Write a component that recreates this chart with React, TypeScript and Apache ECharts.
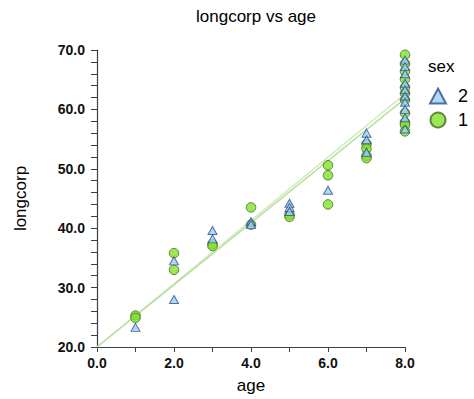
import React, { useEffect, useRef } from "react";
import * as echarts from "echarts";

const TITLE = "longcorp vs age";
const X_NAME = "age";
const Y_NAME = "longcorp";
const LEGEND_TITLE = "sex";

// [age, longcorp] for sex = 2 (triangles)
const sex2Points: [number, number][] = [
  [1, 23.3],
  [2, 34.5], [2, 28.0],
  [3, 39.6], [3, 38.2],
  [4, 41.1], [4, 40.6],
  [5, 44.2], [5, 43.5], [5, 42.8],
  [6, 46.4],
  [7, 56.0], [7, 54.9], [7, 52.8],
  [8, 68.3], [8, 67.2], [8, 66.0], [8, 64.4], [8, 63.3], [8, 62.2], [8, 61.2], [8, 60.0], [8, 58.6], [8, 56.7],
];

// [age, longcorp] for sex = 1 (circles)
const sex1Points: [number, number][] = [
  [1, 25.3], [1, 24.9],
  [2, 35.8], [2, 33.0],
  [3, 37.3], [3, 37.0],
  [4, 43.5], [4, 40.6],
  [5, 42.3], [5, 41.9],
  [6, 50.6], [6, 48.9], [6, 44.0],
  [7, 54.2], [7, 53.4], [7, 52.2], [7, 51.8],
  [8, 69.2], [8, 67.7], [8, 66.4], [8, 65.1], [8, 63.7], [8, 62.7], [8, 61.6], [8, 59.4], [8, 57.8], [8, 57.4], [8, 56.3],
];

// fitted lines (endpoints at age 0 and 8)
const fitLine2: [number, number][] = [[0, 20.0], [8, 62.6]];
const fitLine1: [number, number][] = [[0, 20.0], [8, 61.8]];

const X_MIN = 0, X_MAX = 8, X_INTERVAL = 2;
const Y_MIN = 20, Y_MAX = 70, Y_INTERVAL = 10;

export default function App() {
  const ref = useRef<HTMLDivElement>(null);
  useEffect(() => {
    if (!ref.current) return;
    const chart = echarts.init(ref.current, null, { renderer: "svg" });
    const font = "Arial, 'Liberation Sans', sans-serif";
    const axisColor = "#3c3c4a";
    chart.setOption({
      animation: false,
      backgroundColor: "#ffffff",
      title: {
        text: TITLE,
        left: 251,
        textAlign: "center",
        top: 3,
        textStyle: { fontFamily: font, fontSize: 17, fontWeight: "normal", color: "#000" },
      },
      grid: { left: 97, right: 69, top: 50, bottom: 50 },
      xAxis: {
        type: "value",
        min: X_MIN,
        max: X_MAX,
        interval: X_INTERVAL,
        name: X_NAME,
        nameLocation: "middle",
        nameGap: 30,
        nameTextStyle: { fontFamily: font, fontSize: 17, color: "#000" },
        axisLine: { show: true, onZero: false, lineStyle: { color: axisColor, width: 1.2 } },
        axisTick: { show: true, length: 5, lineStyle: { color: axisColor } },
        minorTick: { show: true, splitNumber: 2, length: 5, lineStyle: { color: axisColor } },
        axisLabel: {
          margin: 9,
          formatter: (v: number) => v.toFixed(1),
          fontFamily: font, fontSize: 14, fontWeight: "bold", color: "#111",
        },
        splitLine: { show: false },
      },
      yAxis: {
        type: "value",
        min: Y_MIN,
        max: Y_MAX,
        interval: Y_INTERVAL,
        name: Y_NAME,
        nameLocation: "middle",
        nameGap: 68,
        nameTextStyle: { fontFamily: font, fontSize: 17, color: "#000" },
        axisLine: { show: true, onZero: false, lineStyle: { color: axisColor, width: 1.2 } },
        axisTick: { show: true, length: 6, lineStyle: { color: axisColor } },
        minorTick: { show: true, splitNumber: 5, length: 6, lineStyle: { color: axisColor } },
        axisLabel: {
          margin: 12,
          formatter: (v: number) => v.toFixed(1),
          fontFamily: font, fontSize: 14, fontWeight: "bold", color: "#111",
        },
        splitLine: { show: false },
      },
      legend: {
        orient: "vertical",
        left: 424,
        top: 82,
        itemWidth: 16,
        itemHeight: 15,
        itemGap: 6,
        data: [
          { name: "2", icon: "triangle" },
          { name: "1", icon: "circle" },
        ],
        textStyle: { fontFamily: font, fontSize: 18, color: "#000", padding: [0, 0, 0, 7] },
      },
      graphic: [
        {
          type: "text",
          left: 428,
          top: 58,
          style: { text: LEGEND_TITLE, font: `17px ${font}`, fill: "#000" },
        },
      ],
      series: [
        {
          name: "fit2",
          type: "line",
          data: fitLine2,
          symbol: "none",
          lineStyle: { color: "#cbe9b6", width: 1.5 },
          z: 1,
          silent: true,
        },
        {
          name: "fit1",
          type: "line",
          data: fitLine1,
          symbol: "none",
          lineStyle: { color: "#b6dfa0", width: 1.5 },
          z: 1,
          silent: true,
        },
        {
          name: "2",
          type: "scatter",
          data: sex2Points,
          symbol: "triangle",
          symbolSize: [9, 8],
          itemStyle: { color: "#9fcdf2", borderColor: "#2c4f8c", borderWidth: 1 },
          z: 3,
        },
        {
          name: "1",
          type: "scatter",
          data: sex1Points,
          symbol: "circle",
          symbolSize: 9.5,
          itemStyle: { color: "#84e02c", borderColor: "#3b6b1f", borderWidth: 1 },
          z: 2,
        },
      ],
    });
    return () => chart.dispose();
  }, []);
  return (
    <div
      ref={ref}
      style={{ position: "fixed", left: 0, top: 0, width: 474, height: 399, background: "#fff" }}
    />
  );
}
